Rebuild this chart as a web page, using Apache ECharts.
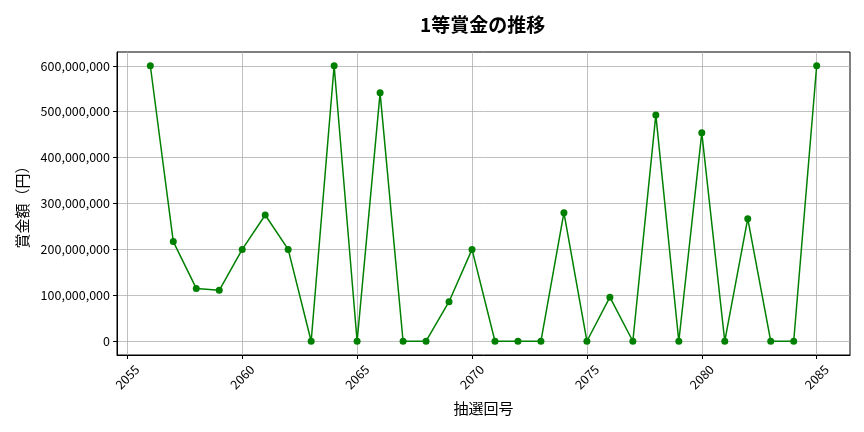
<!DOCTYPE html>
<html>
<head>
<meta charset="utf-8">
<script src="https://cdn.jsdelivr.net/npm/echarts@6/dist/echarts.min.js"></script>
<style>
  html, body { margin: 0; padding: 0; background: #fff; }
  #chart { width: 864px; height: 432px; }
</style>
</head>
<body>
<div id="chart"></div>
<script>
// draw numbers (抽選回号) and 1st prize amounts (円)
const draws = [2056, 2057, 2058, 2059, 2060, 2061, 2062, 2063, 2064, 2065,
               2066, 2067, 2068, 2069, 2070, 2071, 2072, 2073, 2074, 2075,
               2076, 2077, 2078, 2079, 2080, 2081, 2082, 2083, 2084, 2085];
const prizes = [600000000, 217000000, 115000000, 111000000, 200000000, 275000000, 200000000, 0, 600000000, 0,
                541000000, 0, 0, 86000000, 200000000, 0, 0, 0, 280000000, 0,
                96000000, 0, 493000000, 0, 454000000, 0, 267000000, 0, 0, 600000000];
const xTicks = [2055, 2060, 2065, 2070, 2075, 2080, 2085];
const yTicks = [0, 100000000, 200000000, 300000000, 400000000, 500000000, 600000000];

const FONT = '"Noto Sans CJK JP", "Noto Sans", sans-serif';
const chart = echarts.init(document.getElementById('chart'));

chart.setOption({
    animation: false,
    title: {
        text: '1等賞金の推移',
        left: 415,
        top: 10,
        textStyle: {fontFamily: FONT, fontSize: 19, fontWeight: 'bold', color: '#000'}
    },
    grid: {
        left: 117, right: 14, top: 52, bottom: 77,
        show: true, borderColor: '#000', borderWidth: 1
    },
    xAxis: {
        type: 'value',
        min: 2054.55,
        max: 2086.45,
        name: '抽選回号',
        nameLocation: 'middle',
        nameGap: 46,
        nameTextStyle: {fontFamily: FONT, fontSize: 15, color: '#000'},
        axisLine: {show: true, onZero: false, lineStyle: {color: '#000', width: 1}},
        axisTick: {show: true, length: 4, customValues: xTicks, lineStyle: {color: '#000'}},
        axisLabel: {
            customValues: xTicks,
            rotate: 45,
            align: 'center',
            verticalAlign: 'middle',
            margin: 22,
            fontFamily: FONT,
            fontSize: 12.5,
            color: '#000',
            formatter: v => String(v)
        },
        splitLine: {show: true, lineStyle: {color: '#b0b0b0', width: 0.8}}
    },
    yAxis: {
        type: 'value',
        min: -30000000,
        max: 630000000,
        name: '賞金額（円）',
        nameLocation: 'middle',
        nameGap: 87,
        nameTextStyle: {fontFamily: FONT, fontSize: 15, color: '#000'},
        axisLine: {show: true, onZero: false, lineStyle: {color: '#000', width: 1}},
        axisTick: {show: true, length: 4, customValues: yTicks, lineStyle: {color: '#000'}},
        axisLabel: {
            customValues: yTicks,
            margin: 7,
            fontFamily: FONT,
            fontSize: 12.5,
            color: '#000',
            formatter: v => v.toLocaleString('en-US')
        },
        splitLine: {show: true, lineStyle: {color: '#b0b0b0', width: 0.8}}
    },
    series: [{
        type: 'line',
        data: draws.map((d, i) => [d, prizes[i]]),
        symbol: 'circle',
        symbolSize: 7,
        lineStyle: {color: '#008000', width: 1.5},
        itemStyle: {color: '#008000'}
    }]
});
</script>
</body>
</html>
